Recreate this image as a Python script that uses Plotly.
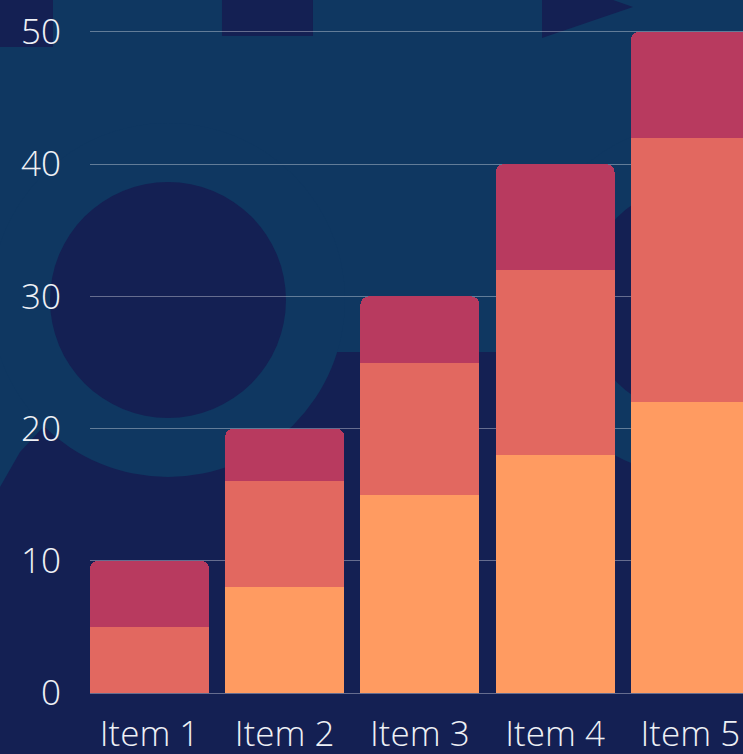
import plotly.graph_objects as go

# ---- data ----
categories = ["Item 1", "Item 2", "Item 3", "Item 4", "Item 5"]
series_orange = [0, 8, 15, 18, 22]
series_salmon = [5, 8, 10, 14, 20]
series_crimson = [5, 4, 5, 8, 8]
y_ticks = [0, 10, 20, 30, 40, 50]

# ---- style ----
W, H = 743, 754
ML, MR, MT, MB = 90, 0, 28, 57
PW, PH = W - ML - MR, H - MT - MB
LIGHT = "#0f3761"
DARK = "#142053"
C_ORANGE = "#ff9b61"
C_SALMON = "#e26860"
C_CRIMSON = "#b83a5f"
FONT = "Open Sans Light, Open Sans"
PAD = 0.3  # small range padding so the 0 and 50 gridlines are drawn


def px(x):
    return (x - ML) / PW


def py(y):
    # convert pixel row to paper coordinate
    return (H - MB - y) / PH


fig = go.Figure()
for name, vals, col in [("A", series_orange, C_ORANGE),
                        ("B", series_salmon, C_SALMON),
                        ("C", series_crimson, C_CRIMSON)]:
    fig.add_trace(go.Bar(x=categories, y=vals, name=name, marker_color=col,
                         marker_line_width=0, hoverinfo="skip"))

# ---- decorative background shapes (pixel-based -> paper) ----
shapes = []


def path(points):
    return "M " + " L ".join(f"{px(x):.5f},{py(y):.5f}" for x, y in points) + " Z"


def circle(cx, cy, r, color):
    return dict(type="circle", xref="paper", yref="paper", layer="below",
                x0=px(cx - r), x1=px(cx + r), y0=py(cy + r), y1=py(cy - r),
                fillcolor=color, line_width=0)


# bottom dark blob
shapes.append(dict(type="path", xref="paper", yref="paper", layer="below",
                   path=path([(0, 487), (20, 452), (45, 425), (168, 352), (337, 352),
                              (900, 352), (900, 800), (0, 800)]),
                   fillcolor=DARK, line_width=0))
# light rings
shapes.append(circle(168, 300, 177, LIGHT))
shapes.append(circle(700, 300, 177, LIGHT))
# dark circles
shapes.append(circle(168, 300, 118, DARK))
shapes.append(circle(700, 300, 117, DARK))
# top rects
shapes.append(dict(type="path", xref="paper", yref="paper", layer="below",
                   path=path([(-5, -5), (53, -5), (53, 47), (-5, 47)]),
                   fillcolor=DARK, line_width=0))
shapes.append(dict(type="path", xref="paper", yref="paper", layer="below",
                   path=path([(222, -5), (313, -5), (313, 36), (222, 36)]),
                   fillcolor=DARK, line_width=0))
# triangle
shapes.append(dict(type="path", xref="paper", yref="paper", layer="below",
                   path=path([(542, -25), (633, 7), (542, 38)]),
                   fillcolor=DARK, line_width=0))

tickfont = dict(family=FONT, size=35, color="#eef0f5", weight=300)

fig.update_layout(
    width=W, height=H,
    margin=dict(l=ML, r=MR, t=MT, b=MB, pad=0, autoexpand=False),
    paper_bgcolor=LIGHT,
    plot_bgcolor="rgba(0,0,0,0)",
    barmode="stack",
    bargap=0.12,
    barcornerradius=8,
    showlegend=False,
    shapes=shapes,
    font=tickfont,
)
fig.update_xaxes(range=[-0.44, -0.44 + PW / 135.2], showgrid=False, zeroline=False,
                 showline=False, ticks="", ticklabelstandoff=13, tickfont=tickfont,
                 automargin=False)
fig.update_yaxes(range=[-PAD, 50 + PAD], tickvals=y_ticks, showgrid=True,
                 gridcolor="rgba(255,255,255,0.35)", gridwidth=1, zeroline=False,
                 showline=False, ticks="", ticklabelstandoff=28, tickfont=tickfont,
                 automargin=False)

fig.write_html("out.html")
